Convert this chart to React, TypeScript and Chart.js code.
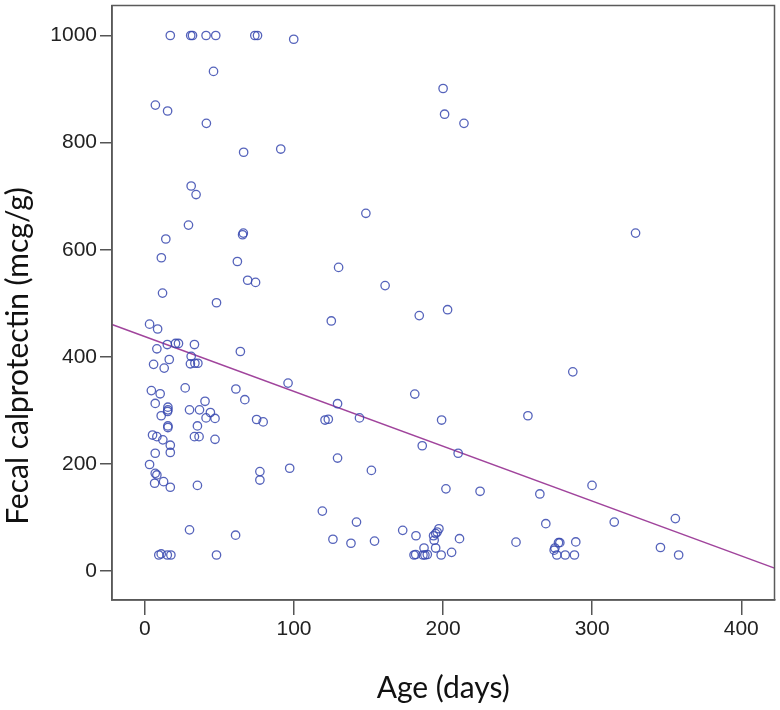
import React, { useEffect, useRef } from "react";
import { Chart, registerables } from "chart.js";

Chart.register(...registerables);

// Age (days) of each sample
const ageDays: number[] = [
  17, 30.7, 31.9, 41, 47.5, 73.7, 75.5, 99.8,
  46, 7, 15.2, 41.2, 66.2, 91.1,
  200, 201, 214,
  31, 34.3, 29.2, 66, 65.5, 14, 11, 62, 68.9, 74.2, 11.8, 48,
  148.2, 329.1, 129.9, 161.1, 184, 203, 125,
  3.1, 8.5, 8, 15, 20.5, 22.5, 33.2, 64, 5.8, 12.9, 16.3, 31, 30.5, 33.5, 35.5,
  96, 4.3, 10.2, 27, 61, 67, 6.9, 15.4, 15.4, 15.2, 10.9, 40.3, 29.9, 36.6, 43.9,
  41, 47, 74.9, 79.3, 15.4, 15.4, 35.2, 5.1, 8, 12, 33.2, 36.3, 47, 17, 17, 6.9,
  3.1, 6.9, 8, 6.5, 12.5, 17, 35.2, 77.1, 77.1, 97.1, 29.9, 60.8, 9.3, 10.9, 15, 17.4, 48,
  287, 181, 129.2, 120.8, 123, 143.9, 199, 256.9, 186, 210.1, 129.2, 151.9, 201.9,
  224.8, 264.9, 299.9, 119, 141.9, 314.8, 355.8, 268.9, 126.1, 138.2, 154, 172.9,
  181.8, 211, 248.9, 345.8, 358, 289, 288.1,
  180.5, 181.6, 186.5, 187.8, 189.4, 187.2, 195, 198.7, 205.7, 194, 195, 196, 197.2, 193.6,
  274.5, 276.3, 277.4, 278.3, 275, 281.9,
];

// Fecal calprotectin (mcg/g) of each sample
const calprotectin: number[] = [
  1000, 1000, 1000, 1000, 1000, 1000, 1000, 993,
  933, 870, 859, 836, 782, 788,
  901, 853, 836,
  719, 703, 646, 631, 628, 620, 585, 578, 543, 539, 519, 501,
  668, 631, 567, 533, 477, 488, 467,
  461, 452, 415, 423, 425, 425, 423, 410, 386, 379, 395, 401, 387, 388, 388,
  351, 337, 331, 342, 340, 320, 313, 306, 301, 298, 290, 317, 301, 301, 296,
  286, 285, 283, 278.5, 271, 268, 271, 254, 251, 245, 251, 251, 246, 235, 221.5, 220,
  199, 182.5, 179.5, 164, 167, 156.5, 160, 185.7, 170, 192, 77, 67, 30, 32, 30, 30, 30,
  372, 330.5, 312.5, 282, 283.5, 286, 282, 290, 234, 220, 211, 188, 153.5,
  149, 144, 160, 112, 91.5, 91.5, 98, 88.5, 59.4, 52, 56, 76,
  66, 60.5, 54, 44, 30, 54.4, 30,
  30, 31, 30, 30, 31, 43, 43, 30, 35, 57.6, 70, 73, 79, 66,
  39, 30, 53, 53, 43, 30,
];

// Fit line end points
const fitAge: number[] = [-22.1, 422.3];
const fitCalprotectin: number[] = [460.5, 5.6];

const xTicks: number[] = [0, 100, 200, 300, 400];
const yTicks: number[] = [0, 200, 400, 600, 800, 1000];

const xTitle = "Age (days)";
const yTitle = "Fecal calprotectin (mcg/g)";

const X_MIN = -22.1;
const X_MAX = 422.3;
const Y_MIN = -54;
const Y_MAX = 1056;

const TICK_FONT = "'Liberation Sans', Arial, sans-serif";
const TITLE_FONT = "Lato, 'Open Sans', sans-serif";

export default function App() {
  const ref = useRef<HTMLCanvasElement | null>(null);

  useEffect(() => {
    if (!ref.current) return;

    const framePlugin = {
      id: "frameAndTitles",
      afterDraw(chart: any) {
        const { ctx, chartArea } = chart;
        ctx.save();
        ctx.strokeStyle = "#5a5a5a";
        ctx.lineWidth = 1.5;
        ctx.strokeRect(chartArea.left, chartArea.top, chartArea.right - chartArea.left, chartArea.bottom - chartArea.top);

        ctx.fillStyle = "#111";
        ctx.font = `30px ${TITLE_FONT}`;
        ctx.textAlign = "center";
        ctx.textBaseline = "alphabetic";
        ctx.fillText(xTitle, (chartArea.left + chartArea.right) / 2, 698);

        ctx.translate(28, 356);
        ctx.rotate(-Math.PI / 2);
        ctx.fillText(yTitle, 0, 0);
        ctx.restore();
      },
    };

    const chart = new Chart(ref.current, {
      type: "scatter",
      data: {
        datasets: [
          {
            type: "line",
            label: "Fit",
            data: fitAge.map((x, i) => ({ x, y: fitCalprotectin[i] })),
            borderColor: "#a0449c",
            borderWidth: 1.5,
            pointRadius: 0,
            fill: false,
            order: 2,
          } as any,
          {
            label: "Samples",
            data: ageDays.map((x, i) => ({ x, y: calprotectin[i] })),
            pointStyle: "circle",
            pointRadius: 4.2,
            pointBorderWidth: 1.3,
            borderColor: "rgba(55, 72, 175, 0.85)",
            backgroundColor: "rgba(0,0,0,0)",
            pointBackgroundColor: "rgba(0,0,0,0)",
            pointBorderColor: "rgba(55, 72, 175, 0.85)",
            order: 1,
          } as any,
        ],
      },
      options: {
        responsive: false,
        animation: false,
        clip: false as any,
        layout: { padding: { top: 3, right: -2, left: 0, bottom: 0 } },
        plugins: {
          legend: { display: false },
          tooltip: { enabled: false },
          title: { display: false },
        },
        scales: {
          x: {
            type: "linear",
            min: X_MIN,
            max: X_MAX,
            afterBuildTicks: (scale: any) => {
              scale.ticks = xTicks.map((v) => ({ value: v }));
            },
            afterFit: (scale: any) => {
              scale.height = 110;
              scale.paddingLeft = 0;
              scale.paddingRight = 0;
            },
            grid: {
              drawOnChartArea: false,
              drawTicks: true,
              tickLength: 15,
              color: "#555",
              lineWidth: 1.5,
            },
            border: { display: true, color: "#555", width: 1.5 },
            ticks: {
              color: "#222",
              padding: 2,
              maxRotation: 0,
              font: { family: TICK_FONT, size: 21 },
              callback: (v: any) => String(v),
            },
            title: { display: false },
          },
          y: {
            type: "linear",
            min: Y_MIN,
            max: Y_MAX,
            afterBuildTicks: (scale: any) => {
              scale.ticks = yTicks.map((v) => ({ value: v }));
            },
            afterFit: (scale: any) => {
              scale.width = 112;
              scale.paddingTop = 0;
              scale.paddingBottom = 0;
            },
            grid: {
              drawOnChartArea: false,
              drawTicks: true,
              tickLength: 12,
              color: "#555",
              lineWidth: 1.5,
            },
            border: { display: true, color: "#555", width: 1.5 },
            ticks: {
              color: "#222",
              padding: 3,
              font: { family: TICK_FONT, size: 21 },
              callback: (v: any) => String(v),
            },
            title: { display: false },
          },
        },
      },
      plugins: [framePlugin],
    });

    return () => chart.destroy();
  }, []);

  return (
    <div style={{ position: "absolute", left: 0, top: 0, width: 780, height: 710, background: "#fff" }}>
      <canvas ref={ref} width={780} height={710} style={{ width: 780, height: 710, display: "block" }} />
    </div>
  );
}
